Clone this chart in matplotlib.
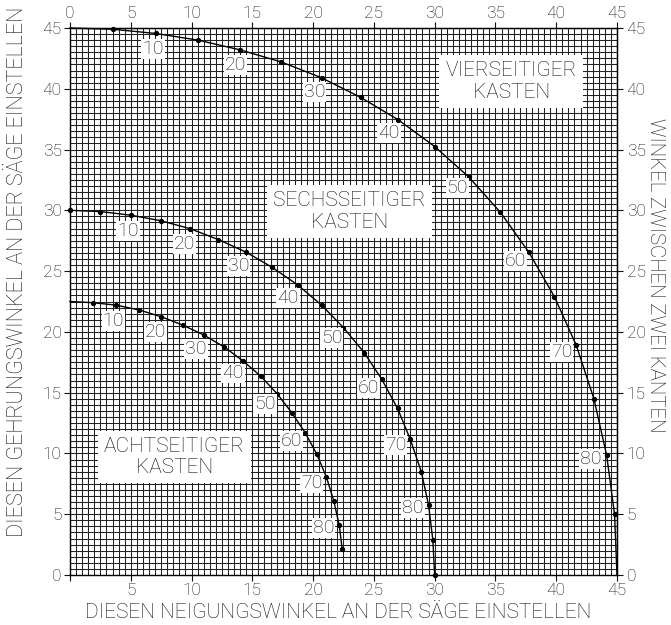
import numpy as np
import matplotlib.pyplot as plt
from matplotlib.ticker import MultipleLocator

plt.rcParams['font.family'] = ['Roboto', 'DejaVu Sans']
plt.rcParams['font.weight'] = 'light'

# slope angle of the box sides (labels along the curves)
slope = [0, 5, 10, 15, 20, 25, 30, 35, 40, 45, 50, 55, 60, 65, 70, 75, 80, 85, 90]

# four sided box: saw tilt (x) and mitre gauge (y)
tilt_4 = [0.0, 3.5, 7.05, 10.55, 14.0, 17.4, 20.7, 23.9, 27.0, 30.0, 32.8, 35.4, 37.75, 39.85, 41.65, 43.1, 44.15, 44.8, 45.0]
mitre_4 = [45.0, 44.9, 44.55, 44.0, 43.2, 42.2, 40.9, 39.3, 37.45, 35.25, 32.75, 29.85, 26.55, 22.9, 18.9, 14.5, 9.85, 5.0, 0.0]

# six sided box
tilt_6 = [0.0, 2.5, 5.0, 7.45, 9.85, 12.2, 14.5, 16.65, 18.75, 20.7, 22.5, 24.2, 25.65, 26.95, 28.0, 28.9, 29.5, 29.85, 30.0]
mitre_6 = [30.0, 29.9, 29.6, 29.15, 28.5, 27.6, 26.55, 25.3, 23.85, 22.2, 20.35, 18.3, 16.1, 13.7, 11.15, 8.5, 5.75, 2.9, 0.0]

# eight sided box (drawn up to 85)
tilt_8 = [0.0, 1.9, 3.8, 5.7, 7.5, 9.3, 11.0, 12.7, 14.25, 15.7, 17.05, 18.25, 19.35, 20.3, 21.1, 21.7, 22.15, 22.4]
mitre_8 = [22.5, 22.4, 22.2, 21.8, 21.25, 20.55, 19.75, 18.75, 17.6, 16.35, 14.9, 13.35, 11.7, 9.95, 8.05, 6.1, 4.1, 2.1]

box_names = ['VIERSEITIGER\nKASTEN', 'SECHSSEITIGER\nKASTEN', 'ACHTSEITIGER\nKASTEN']
box_pos = [(36.3, 40.6), (23.0, 29.9), (8.6, 9.7)]

W, H = 671, 625
ink = '#111111'
fig = plt.figure(figsize=(W / 100, H / 100), dpi=100)
ax = fig.add_axes([0.1043, 0.08, 0.8152, 0.8752])
ax.set_xlim(0, 45)
ax.set_ylim(0, 45)

ax.xaxis.set_minor_locator(MultipleLocator(0.5))
ax.yaxis.set_minor_locator(MultipleLocator(0.5))
ax.grid(which='both', color='#222222', linewidth=0.75)
ax.set_axisbelow(True)
ax.tick_params(which='minor', length=0)
ax.tick_params(which='major', length=4, width=0.8, labelsize=12.5, pad=2, color=ink, labelcolor=ink)

ticks = list(range(0, 46, 5))
ax.set_xticks(ticks, labels=[''] + [str(t) for t in ticks[1:]])
ax.set_yticks(ticks, labels=[str(t) for t in ticks])
top = ax.secondary_xaxis('top')
top.set_xticks(ticks, labels=[str(t) for t in ticks])
top.tick_params(length=4, width=0.8, labelsize=12.5, pad=1, color=ink, labelcolor=ink)
right = ax.secondary_yaxis('right')
right.set_yticks(ticks, labels=[str(t) for t in ticks])
right.tick_params(length=4, width=0.8, labelsize=12.5, pad=3, color=ink, labelcolor=ink)
for sp in ax.spines.values():
    sp.set_linewidth(1.0)

# axis titles placed in figure pixels
fig.text(338 / W, 1 - 613 / H, 'DIESEN NEIGUNGSWINKEL AN DER SÄGE EINSTELLEN',
         fontsize=15, ha='center', va='center', color=ink)
fig.text(18 / W, 1 - 272 / H, 'DIESEN GEHRUNGSWINKEL AN DER SÄGE EINSTELLEN',
         fontsize=15.5, rotation=90, ha='center', va='center', color=ink)
fig.text(656 / W, 1 - 275 / H, 'WINKEL ZWISCHEN ZWEI KANTEN',
         fontsize=14.7, rotation=-90, ha='center', va='center', color=ink)

curves = [
    (tilt_4, mitre_4, slice(1, 18)),
    (tilt_6, mitre_6, slice(0, 19)),
    (tilt_8, mitre_8, slice(1, 18)),
]
for xs, ys, dots in curves:
    xs = np.array(xs)
    ys = np.array(ys)
    ax.plot(xs, ys, color='black', linewidth=1.0, zorder=3, clip_on=False)
    ax.plot(xs[dots], ys[dots], 'o', color='black', markersize=2.8, zorder=4, clip_on=False)
    for i, a in enumerate(slope[:len(xs)]):
        if a % 10 != 0 or a == 0 or a == 90:
            continue
        r = np.hypot(xs[i], ys[i])
        dx, dy = -xs[i] / r * 11.5, -ys[i] / r * 11.5
        ax.annotate(str(a), (xs[i], ys[i]), xytext=(dx, dy), textcoords='offset points',
                    ha='center', va='center', fontsize=14, color=ink, zorder=5,
                    bbox=dict(boxstyle='square,pad=0.05', facecolor='white', edgecolor='none'))

for name, (bx, by) in zip(box_names, box_pos):
    ax.text(bx, by, name, ha='center', va='center', fontsize=15, color=ink,
            linespacing=1.15, zorder=5,
            bbox=dict(boxstyle='square,pad=0.3', facecolor='white', edgecolor='none'))

fig.savefig('out.png', dpi=100)
